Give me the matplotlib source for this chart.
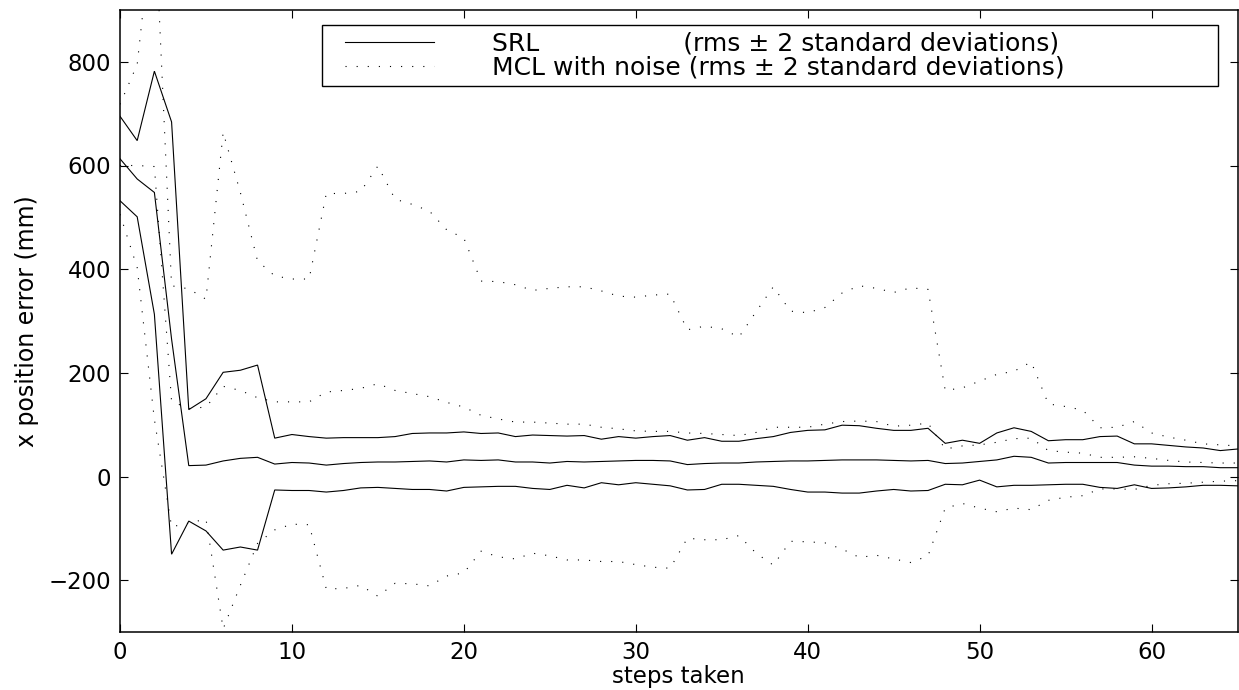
import numpy as np
import matplotlib
matplotlib.use("Agg")
import matplotlib.pyplot as plt
from matplotlib.legend_handler import HandlerLine2D

# ---------------- data ----------------
steps = list(range(66))

srl_upper = [695, 648, 782, 684, 129, 150, 201, 205, 215, 74, 81, 77, 74, 75, 75, 75,
             77, 83, 84, 84, 86, 83, 84, 77, 80, 79, 78, 79, 72, 77, 74, 77, 79, 70,
             75, 68, 68, 73, 77, 85, 89, 90, 99, 98, 93, 89, 89, 93, 64, 70, 64, 84,
             94, 87, 69, 71, 71, 77, 78, 63, 63, 60, 57, 55, 50, 53]
srl_mid = [613, 574, 548, 265, 21, 22, 30, 35, 37, 24, 27, 26, 22, 25, 27, 28,
           28, 29, 30, 28, 32, 31, 32, 28, 28, 26, 29, 28, 29, 30, 31, 31, 30, 23,
           25, 26, 26, 28, 29, 30, 30, 31, 32, 32, 32, 31, 30, 31, 25, 26, 29, 32,
           39, 37, 26, 27, 27, 27, 27, 22, 20, 20, 19, 19, 17, 17]
srl_lower = [532, 501, 313, -150, -86, -105, -142, -136, -142, -26, -27, -27, -30, -27,
             -22, -21, -23, -25, -25, -28, -21, -20, -19, -19, -23, -25, -17, -22, -12,
             -16, -12, -15, -18, -26, -25, -15, -15, -17, -19, -25, -30, -30, -32, -32,
             -28, -25, -28, -27, -15, -16, -7, -20, -17, -17, -16, -15, -15, -21, -23,
             -16, -23, -22, -20, -17, -17, -18]

mcl_upper = [718, 795, 1100, 368, 362, 342, 664, 548, 416, 387, 381, 381,
             546, 546, 550, 599, 535, 525, 512, 476, 460, 377, 376, 370,
             359, 363, 366, 366, 358, 348, 346, 350, 352, 283, 290, 285,
             269, 318, 366, 319, 316, 326, 354, 368, 363, 355, 364, 361,
             166, 171, 184, 197, 203, 221, 140, 135, 128, 94, 95, 106,
             84, 76, 70, 63, 61, 59]
mcl_mid = [600, 600, 598, 145, 131, 134, 174, 166, 152, 144, 144, 144,
           163, 166, 170, 179, 166, 160, 154, 143, 134, 118, 111, 105,
           105, 103, 101, 101, 95, 92, 88, 87, 87, 84, 83, 81,
           79, 85, 95, 95, 95, 101, 106, 107, 106, 97, 99, 103,
           53, 59, 61, 66, 73, 74, 50, 47, 45, 37, 37, 38,
           35, 31, 28, 27, 26, 26]
mcl_lower = [506, 403, 110, -97, -90, -82, -294, -210, -129, -103, -92, -93,
             -217, -216, -210, -231, -206, -207, -211, -192, -186, -144, -155, -159,
             -148, -153, -161, -161, -164, -164, -170, -175, -177, -119, -122, -122,
             -114, -148, -171, -125, -126, -128, -140, -156, -152, -159, -166, -153,
             -61, -52, -61, -68, -61, -64, -46, -40, -37, -24, -24, -25,
             -17, -14, -13, -11, -9, -8]

xticks = [0, 10, 20, 30, 40, 50, 60]
yticks = [-200, 0, 200, 400, 600, 800]
label_srl = "SRL" + " " * 18 + "(rms \u00b1 2 standard deviations)"
label_mcl = "MCL with noise (rms \u00b1 2 standard deviations)"

# ---------------- figure ----------------
plt.rcParams['font.family'] = ['DejaVu Sans']
W, H = 1239, 690
fig = plt.figure(figsize=(W / 100, H / 100), dpi=100)
L, R, T, B = 120, 1237.5, 10, 632
ax = fig.add_axes([L / W, 1 - B / H, (R - L) / W, (B - T) / H])

solid_kw = dict(color='black', lw=0.8, solid_joinstyle='miter')
dot_kw = dict(color='black', lw=0.8, linestyle=(0, (1, 9)))

l1, = ax.plot(steps, srl_upper, **solid_kw, label=label_srl)
ax.plot(steps, srl_mid, **solid_kw)
ax.plot(steps, srl_lower, **solid_kw)
l2, = ax.plot(steps, mcl_upper, **dot_kw, label=label_mcl)
ax.plot(steps, mcl_mid, **dot_kw)
ax.plot(steps, mcl_lower, **dot_kw)

ax.set_xlim(0, 65)
ax.set_ylim(-300, 900)
ax.set_xticks(xticks)
ax.set_yticks(yticks)
ax.tick_params(direction='in', top=True, right=True, length=5.8, width=0.8,
               labelsize=16.5, pad=6.5, colors='black')
for sp in ax.spines.values():
    sp.set_linewidth(1.1)
    sp.set_color('black')

ax.set_xlabel('steps taken', fontsize=16.5)
ax.xaxis.set_label_coords(0.5, -0.053)
ax.set_ylabel('x position error (mm)', fontsize=17)
ax.yaxis.set_label_coords(-0.0725, 0.5)


class ShiftedLine(HandlerLine2D):
    def __init__(self, shift, **kw):
        super().__init__(**kw)
        self.shift = shift

    def get_xdata(self, legend, xdescent, ydescent, width, height, fontsize):
        xdata, xdm = super().get_xdata(legend, xdescent, ydescent, width, height, fontsize)
        xdata = np.asarray(xdata, dtype=float).copy()
        xdata[0] = xdata[0] + self.shift * fontsize
        return xdata, xdm


fs = 18
lx0, lx1, ly0 = 322, 1218, 25
leg = ax.legend(handles=[l1, l2], loc='upper left',
                bbox_to_anchor=(lx0 / W, 0.0, (lx1 - lx0) / W, 1 - ly0 / H),
                bbox_transform=fig.transFigure, mode='expand',
                borderaxespad=0.0, borderpad=0.25, labelspacing=0.0,
                handlelength=4.23, handletextpad=2.32, fontsize=fs,
                fancybox=False, framealpha=1.0, edgecolor='black',
                handler_map={l1: ShiftedLine(0.67), l2: ShiftedLine(0.67)})
leg.get_frame().set_linewidth(1.0)

fig.savefig('out.png', dpi=100)
